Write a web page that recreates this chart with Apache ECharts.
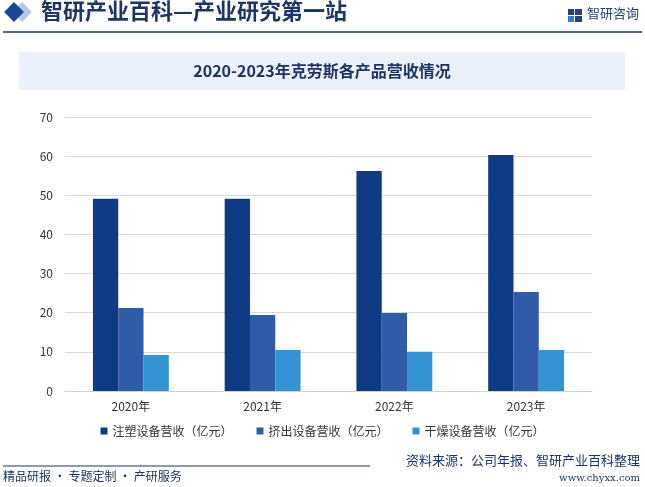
<!DOCTYPE html>
<html>
<head>
<meta charset="utf-8">
<script src="https://cdn.jsdelivr.net/npm/echarts@6/dist/echarts.min.js"></script>
<style>
html,body{margin:0;padding:0;background:#fff;}
#c{width:645px;height:487px;}
</style>
</head>
<body>
<div id="c"></div>
<script>
var categories = ['2020年', '2021年', '2022年', '2023年'];
var seriesNames = ['注塑设备营收（亿元）', '挤出设备营收（亿元）', '干燥设备营收（亿元）'];
var injection = [49.1, 49.1, 56.2, 60.3];
var extrusion = [21.2, 19.4, 19.9, 25.3];
var drying = [9.2, 10.5, 10.0, 10.5];
var yTicks = [0, 10, 20, 30, 40, 50, 60, 70];
var colors = ['#0f3a84', '#2f5ba8', '#3294d3'];

var chart = echarts.init(document.getElementById('c'));
var font = '"Noto Sans CJK SC", "Microsoft YaHei", sans-serif';
chart.setOption({
  animation: false,
  textStyle: { fontFamily: font },
  graphic: [
    { type: 'rect', shape: { x: -7, y: -7, width: 14, height: 14 }, x: 22, y: 12, rotation: Math.PI / 4, style: { fill: '#b9c8e2' } },
    { type: 'rect', shape: { x: -7, y: -7, width: 14, height: 14 }, x: 14, y: 12, rotation: Math.PI / 4, style: { fill: '#1c4596' } },
    { type: 'text', left: 41, top: 0, style: { text: '智研产业百科—产业研究第一站', font: 'bold 22px "Noto Sans CJK SC", serif', fill: '#1d3565' } },
    { type: 'line', shape: { x1: 3, y1: 32, x2: 642, y2: 32 }, style: { stroke: '#1d3565', lineWidth: 1.5 } },
    { type: 'rect', shape: { x: 568, y: 9, width: 6, height: 6 }, style: { fill: '#2b3f7a' } },
    { type: 'rect', shape: { x: 575, y: 9, width: 7, height: 6 }, style: { fill: '#2b3f7a' } },
    { type: 'rect', shape: { x: 568, y: 16, width: 6, height: 6 }, style: { fill: '#3a7dc5' } },
    { type: 'rect', shape: { x: 575, y: 16, width: 7, height: 6 }, style: { fill: '#2b3f7a' } },
    { type: 'text', left: 587, top: 7, style: { text: '智研咨询', font: '13px "Noto Sans CJK SC"', fill: '#1f3f7a' } },
    { type: 'rect', shape: { x: 19, y: 52, width: 606, height: 38 }, style: { fill: '#eaf1fb' } },
    { type: 'text', x: 322, y: 71, style: { text: '2020-2023年克劳斯各产品营收情况', font: 'bold 16px "Noto Sans CJK SC", serif', fill: '#1d3565', textAlign: 'center', textVerticalAlign: 'middle' } },
    { type: 'line', shape: { x1: 3, y1: 466, x2: 370, y2: 466 }, style: { stroke: '#1d3565', lineWidth: 1 } },
    { type: 'text', left: 3, top: 470, style: { text: '精品研报 · 专题定制 · 产研服务', font: '12px "Noto Sans CJK SC"', fill: '#1d3565' } },
    { type: 'text', right: 5, top: 454, style: { text: '资料来源：公司年报、智研产业百科整理', font: '13px "Noto Sans CJK SC"', fill: '#1d3565' } },
    { type: 'text', right: 5, top: 473, style: { text: 'www.chyxx.com', font: '10px "DejaVu Serif", serif', fill: '#1d3565' } }
  ],
  color: colors,
  legend: {
    data: seriesNames,
    bottom: 45,
    left: 'center',
    itemWidth: 7,
    itemHeight: 7,
    itemGap: 24,
    icon: 'rect',
    textStyle: { fontSize: 12, color: '#333', fontFamily: font }
  },
  grid: { left: 65, right: 53, top: 117, bottom: 96 },
  xAxis: {
    type: 'category',
    data: categories,
    axisLine: { lineStyle: { color: '#d0d0d0' } },
    axisTick: { show: false },
    axisLabel: { color: '#333', fontSize: 12, margin: 9 }
  },
  yAxis: {
    type: 'value',
    min: yTicks[0],
    max: yTicks[yTicks.length - 1],
    interval: 10,
    axisLine: { show: false },
    axisTick: { show: false },
    axisLabel: { color: '#333', fontSize: 12, margin: 12 },
    splitLine: { lineStyle: { color: '#d9d9d9' } }
  },
  series: [
    { name: seriesNames[0], type: 'bar', data: injection, barWidth: '19.2%', barGap: '0%' },
    { name: seriesNames[1], type: 'bar', data: extrusion, barWidth: '19.2%', barGap: '0%' },
    { name: seriesNames[2], type: 'bar', data: drying, barWidth: '19.2%', barGap: '0%' }
  ]
});
</script>
</body>
</html>
